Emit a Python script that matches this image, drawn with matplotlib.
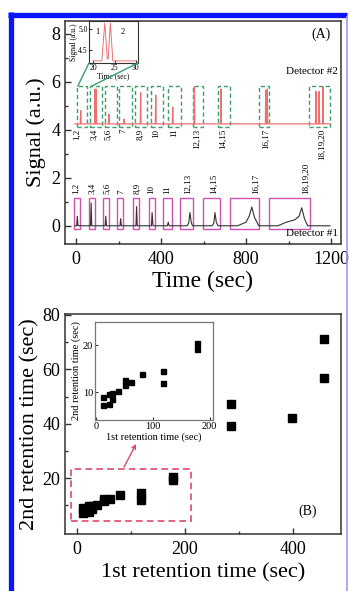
import matplotlib
matplotlib.use("Agg")
import matplotlib.pyplot as plt
from matplotlib.patches import Rectangle, ConnectionPatch
from matplotlib.lines import Line2D

plt.rcParams['font.family'] = ['Liberation Serif', 'DejaVu Serif']
plt.rcParams['mathtext.fontset'] = 'stix'

# ---------------- Panel A data ----------------
det1_t = [-5, 3, 6, 9, 68, 71, 74, 137, 140, 143, 207, 210, 213, 282, 285, 288,
          355, 358, 362, 430, 434, 438, 522, 530, 536, 542, 548, 640, 648, 654, 660, 668,
          760, 800, 815, 827, 840, 860, 950, 990, 1030, 1050, 1062, 1075, 1090, 1195]
det1_s = [0, 0, 0.4, 0, 0, 0.95, 0, 0, 0.4, 0, 0, 0.3, 0, 0, 0.8, 0,
          0, 0.55, 0, 0, 0.15, 0, 0, 0.1, 0.55, 0.15, 0, 0, 0.1, 0.55, 0.15, 0,
          0, 0.15, 0.4, 0.78, 0.35, 0, 0, 0.15, 0.25, 0.4, 0.75, 0.3, 0, 0]

det2_t = [-5, 20, 22, 24, 87, 89, 91, 93, 95, 97, 153, 155, 157, 224, 226, 228,
          302, 304, 306, 373, 375, 377, 453, 455, 457, 555, 557, 559, 680, 682, 684,
          891, 893, 895, 898, 900, 902, 1127, 1129, 1131, 1142, 1144, 1146,
          1160, 1162, 1164, 1195]
det2_s = [4.25, 4.25, 4.8, 4.25, 4.25, 5.7, 4.25, 4.25, 5.7, 4.25, 4.25, 4.65, 4.25,
          4.25, 4.45, 4.25, 4.25, 5.55, 4.25, 4.25, 5.45, 4.25, 4.25, 4.95, 4.25,
          4.25, 5.8, 4.25, 4.25, 5.7, 4.25, 4.25, 5.65, 4.25, 4.25, 5.7, 4.25,
          4.25, 5.6, 4.25, 4.25, 5.6, 4.25, 4.25, 5.8, 4.25, 4.25]

groups = ["1,2", "3,4", "5,6", "7", "8,9", "10", "11", "12,13", "14,15", "16,17", "18,19,20"]
det1_box_start = [-9, 60, 127, 195, 267, 342, 411, 489, 599, 725, 910]
det1_box_end = [19, 89, 155, 223, 295, 372, 450, 552, 678, 863, 1101]
det1_label_t = [0, 75, 145, 215, 289, 356, 431, 525, 647, 849, 1080]
det2_box_start = [6, 66, 137, 204, 278, 351, 433, 549, 670, 863, 1098]
det2_box_end = [53, 124, 195, 265, 332, 411, 493, 599, 725, 910, 1195]
det2_label_t = [6, 84, 152, 222, 301, 376, 461, 567, 690, 894, 1156]

inset_a_t = [20, 22.0, 22.7, 23.3, 23.5, 24.0, 24.6, 30]
inset_a_s = [4.25, 4.25, 5.15, 4.3, 4.3, 5.15, 4.25, 4.25]

# ---------------- Panel B data ----------------
rt1 = [12, 12, 22, 22, 28, 28, 38, 50, 50, 62, 80, 118, 118, 178, 178, 285, 285, 398, 457, 457]
rt2 = [7.3, 9.0, 7.5, 9.7, 8.5, 9.8, 10.3, 11.5, 12.5, 12.2, 13.8, 12.0, 14.5, 19.2, 20.5,
       47.4, 39.3, 42.0, 71.2, 56.7]
inset_rt1 = rt1[:15]
inset_rt2 = rt2[:15]

RED = '#f07070'
GREEN = '#3a9e6a'
MAG = '#d050b0'
BOXRED = '#e04868'
SPINE = '#333333'

W, H = 350, 591
fig = plt.figure(figsize=(W / 100, H / 100), dpi=100)

def fx(px):
    return px / W

def fy(py):
    return 1 - py / H

# ---------- Panel A ----------
axA = fig.add_axes([fx(65), fy(244), fx(341) - fx(65), fy(21) - fy(244)])
axA.plot(det1_t, det1_s, color='#333333', lw=0.8)
axA.plot(det2_t, det2_s, color=RED, lw=0.9)
for s, e in zip(det1_box_start, det1_box_end):
    axA.add_patch(Rectangle((s, -0.14), e - s, 1.28, fill=False, ec=MAG, lw=1.0))
for s, e in zip(det2_box_start, det2_box_end):
    axA.add_patch(Rectangle((s, 4.12), e - s, 1.7, fill=False, ec=GREEN, lw=1.0, ls=(0, (3, 2))))
for t, g in zip(det1_label_t, groups):
    axA.text(t, 1.32, g, rotation=90, ha='center', va='bottom', fontsize=6.5)
for t, g in zip(det2_label_t, groups):
    axA.text(t, 4.05, g, rotation=90, ha='center', va='top', fontsize=6.5)
axA.text(1233, 6.45, "Detector #2", ha='right', va='center', fontsize=8)
axA.text(1233, -0.32, "Detector #1", ha='right', va='center', fontsize=8)
axA.text(1153, 8.0, "(A)", ha='center', va='center', fontsize=10)
axA.set_xlim(-52, 1247)
axA.set_ylim(-0.76, 8.54)
axA.set_xticks([0, 400, 800, 1200])
axA.set_xticks([200, 600, 1000], minor=True)
axA.set_yticks([0, 2, 4, 6, 8])
axA.set_yticks([1, 3, 5, 7], minor=True)
axA.tick_params(direction='in', labelsize=13, length=4, width=1, colors=SPINE, labelcolor='black')
axA.tick_params(which='minor', direction='in', length=2, width=1, colors=SPINE)
axA.tick_params(axis='x', pad=5)
axA.set_xlabel("Time (sec)", fontsize=17, labelpad=2)
axA.set_ylabel("Signal (a.u.)", fontsize=16, labelpad=4)
for sp in axA.spines.values():
    sp.set_color(SPINE)
    sp.set_linewidth(1.1)

# inset in A
axAi = fig.add_axes([fx(89), fy(63), fx(138) - fx(89), fy(21) - fy(63)])
axAi.plot(inset_a_t, inset_a_s, color=RED, lw=0.7)
axAi.set_xlim(19, 30.5)
axAi.set_ylim(4.2, 5.2)
axAi.set_xticks([20, 25, 30])
axAi.set_yticks([4.5, 5.0])
axAi.set_yticklabels(["4.5", "5.0"])
axAi.tick_params(direction='in', labelsize=5.5, length=2, pad=1, colors=SPINE, labelcolor='black')
axAi.set_xlabel("Time (sec)", fontsize=5.5, labelpad=0)
axAi.set_ylabel("Signal (a.u.)", fontsize=5.5, labelpad=0)
axAi.text(20.9, 4.95, "1", fontsize=6, ha='center', va='center')
axAi.text(27.0, 4.95, "2", fontsize=6, ha='center', va='center')
for sp in axAi.spines.values():
    sp.set_color(SPINE)
    sp.set_linewidth(0.8)
for xa, xb in [((0, 0), (8, 5.82)), ((1, 0), (72, 5.82))]:
    cp = ConnectionPatch(xyA=xa, coordsA=axAi.transAxes, xyB=xb, coordsB=axA.transData,
                         color=GREEN, lw=1.0)
    fig.add_artist(cp)

# ---------- Panel B ----------
axB = fig.add_axes([fx(65), fy(534), fx(341) - fx(65), fy(314) - fy(534)])
axB.plot(rt1, rt2, ls='none', marker='s', ms=6, color='black')
axB.add_patch(Rectangle((-11, 4.2), 223, 19, fill=False, ec=BOXRED, lw=1.2, ls=(0, (4, 2.5))))
axB.annotate('', xy=(112, 33.5), xytext=(85, 23.2),
             arrowprops=dict(arrowstyle='->', color=BOXRED, lw=1.0, mutation_scale=7))
axB.text(428, 8, "(B)", ha='center', va='center', fontsize=10)
axB.set_xlim(-22, 489)
axB.set_ylim(-0.5, 80.3)
axB.set_xticks([0, 200, 400])
axB.set_xticks([100, 300], minor=True)
axB.set_yticks([20, 40, 60, 80])
axB.set_yticks([10, 30, 50, 70], minor=True)
axB.tick_params(direction='in', labelsize=13, length=4, width=1, colors=SPINE, labelcolor='black')
axB.tick_params(which='minor', direction='in', length=2, width=1, colors=SPINE)
axB.tick_params(axis='x', pad=5)
axB.set_xlabel("1st retention time (sec)", fontsize=16, labelpad=4)
axB.set_ylabel("2nd retention time (sec)", fontsize=16, labelpad=2)
for sp in axB.spines.values():
    sp.set_color(SPINE)
    sp.set_linewidth(1.1)

# inset in B
axBi = fig.add_axes([fx(95), fy(420), fx(213) - fx(95), fy(322) - fy(420)])
axBi.plot(inset_rt1, inset_rt2, ls='none', marker='s', ms=3.6, color='black')
axBi.set_xlim(-2, 206)
axBi.set_ylim(4.1, 24.9)
axBi.set_xticks([0, 100, 200])
axBi.set_yticks([10, 20])
axBi.tick_params(direction='in', labelsize=7.5, length=2, pad=1.5, colors=SPINE, labelcolor='black')
axBi.set_xlabel("1st retention time (sec)", fontsize=7.5, labelpad=1)
axBi.set_ylabel("2nd retention time (sec)", fontsize=7.5, labelpad=1)
for sp in axBi.spines.values():
    sp.set_color('#777777')
    sp.set_linewidth(0.9)

# ---------- blue frame ----------
fig.add_artist(Line2D([fx(10.5), fx(10.5)], [0, fy(12)], transform=fig.transFigure,
                      color='#0a14ff', lw=3.8, solid_capstyle='butt'))
fig.add_artist(Line2D([fx(8), fx(347)], [fy(14.5), fy(14.5)], transform=fig.transFigure,
                      color='#0a14ff', lw=3.8, solid_capstyle='butt'))
fig.add_artist(Line2D([fx(346.5), fx(346.5)], [0, fy(16)], transform=fig.transFigure,
                      color='#9a9aff', lw=1.2, solid_capstyle='butt'))

fig.savefig("out.png", dpi=100)
